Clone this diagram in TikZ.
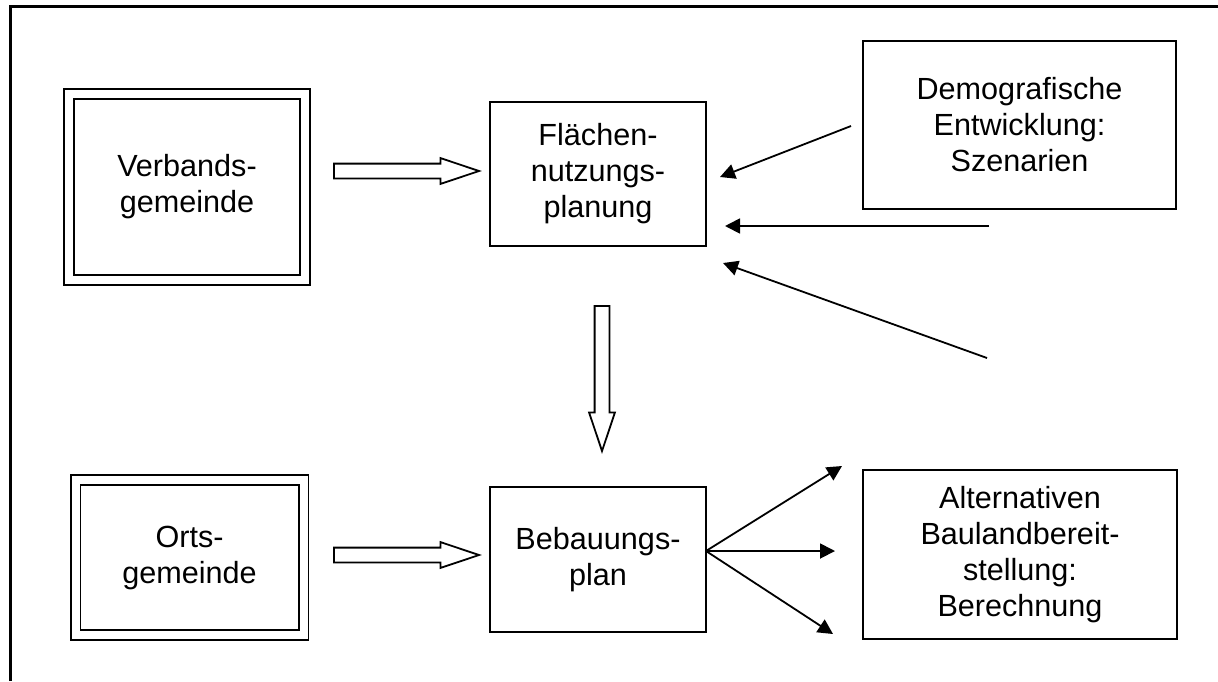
\documentclass[tikz,border=0pt]{standalone}
\usepackage{fontspec}
\setmainfont{Liberation Sans}
\usetikzlibrary{arrows.meta,shapes.arrows}

\begin{document}
\begin{tikzpicture}[x=0.5pt,y=-0.5pt,
  font=\fontsize{15.3}{18}\selectfont,
  kasten/.style={draw,line width=1pt,align=center,inner sep=0pt},
  doppelkasten/.style={draw,double,line width=0.9pt,double distance=4pt,align=center,inner sep=0pt},
  hohlpfeil/.style={draw,single arrow,line width=0.9pt,inner sep=3.25pt,minimum width=12pt,
    minimum height=72.5pt,single arrow head extend=2.75pt,single arrow tip angle=37},
  pfeil/.style={-{Triangle[length=7.5pt,width=7.5pt]},line width=0.9pt}]
\useasboundingbox (0,0) rectangle (1218,681);
% Rahmen
\draw[line width=1.5pt] (10,681) -- (10,6) -- (1218,6);
% Ebenen
\node[doppelkasten,minimum width=118pt,minimum height=93pt] (vg) at (187,187) {Verbands-\\gemeinde};
\node[doppelkasten,minimum width=114pt,minimum height=77.5pt] (og) at (189.5,557.75) {Orts-\\gemeinde};
\node[kasten,minimum width=108pt,minimum height=72pt] (fnp) at (598,174) {Flächen-\\nutzungs-\\planung};
\node[kasten,minimum width=108pt,minimum height=72.5pt] (bp) at (598,559.5) {Bebauungs-\\plan};
\node[kasten,minimum width=156.5pt,minimum height=84pt] (demo) at (1019.5,125) {Demografische\\Entwicklung:\\Szenarien};
\node[kasten,minimum width=157pt,minimum height=84.5pt] (alt) at (1020,554.5) {Alternativen\\Baulandbereit-\\stellung:\\Berechnung};
% Hohlpfeile
\node[hohlpfeil] (p1) at (395.5,171) {};
\node[hohlpfeil] (p2) at (395.5,555) {};
\node[hohlpfeil,rotate=-90] (p3) at (602,367.5) {};
% Pfeile zur Flaechennutzungsplanung
\coordinate (d1) at (851,126);  \coordinate (f1) at (720,177);
\coordinate (d2) at (989,226);  \coordinate (f2) at (725,226);
\coordinate (d3) at (987,358);  \coordinate (f3) at (723,263);
\draw[pfeil] (d1) -- (f1);
\draw[pfeil] (d2) -- (f2);
\draw[pfeil] (d3) -- (f3);
% Pfeile aus dem Bebauungsplan
\coordinate (b0) at (706,551);
\coordinate (a1) at (842,466);
\coordinate (a2) at (835,551);
\coordinate (a3) at (833,634);
\foreach \z in {a1,a2,a3}{\draw[pfeil] (b0) -- (\z);}
\end{tikzpicture}
\end{document}
